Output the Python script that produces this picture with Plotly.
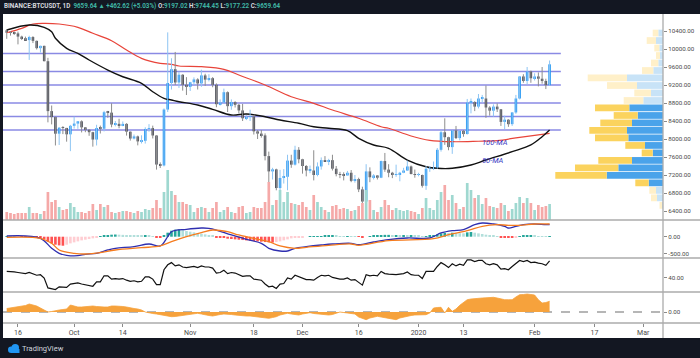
import plotly.graph_objects as go
import pandas as pd

# ---------------- data ----------------
dates = pd.date_range("2019-09-13", "2020-02-05", freq="D")

opens = [10416,10361,10358,10347,10276,10241,10198,10266,10181,10019,10070,9729,8620,8487,8118,8251,8246,8104,
         8293,8343,8393,8259,8205,8151,7988,8245,8228,8595,8586,8322,8337,8295,8336,8163,8010,8058,7947,7960,8223,8243,8078,7432,7412,8655,9245,9552,9256,9428,9205,
         9157,9261,9324,9235,9413,9320,9352,9205,8773,8810,9040,8730,8820,8760,8635,8460,8490,8500,8170,8120,8080,7620,7280,7325,6910,7135,7160,7520,7430,7760,
         7550,7400,7300,7300,7200,7390,7530,7510,7530,7340,7220,7200,7190,7250,7070,7110,6880,6610,7280,7150,7190,7140,7510,7320,7250,7200,7200,7250,7300,7390,7220,
         7200,7200,6960,7340,7350,7350,7760,8150,8040,7820,8190,8020,8180,8110,8810,8820,8720,8900,8900,8700,8630,8720,8660,8380,8430,8330,8590,8900,9390,9290,9500,
         9350,9390,9340,9290,9197.02]
highs = [10441,10394,10387,10386,10296,10275,10295,10285,10188,10074,10074,9804,8744,8498,8265,8285,8246,8314,
         8497,8393,8414,8260,8215,8161,8316,8298,8626,8625,8794,8400,8449,8390,8352,8165,8100,8076,8082,8260,8330,8297,8078,7480,8680,10370,9794,9935,9494,9440,9375,
         9270,9370,9350,9540,9450,9440,9375,9235,8880,9120,9058,8880,8840,8780,8780,8530,8650,8530,8200,8200,8125,7720,7360,7340,7315,7330,7650,7650,7850,7820,
         7560,7420,7410,7750,7480,7590,7620,7560,7650,7400,7270,7260,7290,7310,7200,7140,6940,7440,7370,7220,7190,7520,7690,7440,7270,7430,7270,7360,7520,7410,7320,
         7250,7210,7400,7400,7500,7800,8200,8460,8050,8200,8290,8190,8200,8890,8900,8840,9000,8980,9190,8730,8770,8790,8660,8520,8440,8600,8980,9400,9440,9600,
         9520,9460,9480,9600,9340,9744.45]
lows = [10226,10298,10313,10103,10199,10191,9758,10132,9989,9922,9727,8370,8325,7856,7867,8109,7941,7730,
        8232,8227,8146,8151,8071,7830,7856,8122,8169,8471,8260,8281,8238,8284,8076,7965,7990,7859,7901,7898,8162,8012,7320,7355,7390,8600,9100,9200,9135,9075,8977,
        9067,9200,9100,9160,9180,9280,9150,8705,8745,8790,8600,8650,8700,8570,8400,8420,8400,8100,8000,8030,7525,6900,7100,6860,6520,7010,6860,7360,7410,7460,
        7230,7170,7240,7080,7170,7320,7500,7420,7300,7170,7130,7080,7200,7040,7030,6820,6560,6500,7040,7100,7100,7130,7270,7150,7130,7160,7060,7240,7290,7220,7140,
        7170,6920,6870,7270,7310,7340,7720,7870,7750,7670,8000,7970,8050,8100,8570,8620,8680,8810,8470,8520,8500,8600,8290,8220,8270,8290,8560,8880,9250,9210,
        9250,9300,9170,9230,9110,9177.22]
closes = [10361,10358,10347,10276,10241,10198,10266,10181,10019,10070,9729,8620,8487,8118,8251,8246,8104,8293,
          8343,8393,8259,8205,8151,7988,8245,8228,8595,8586,8322,8337,8295,8336,8163,8010,8058,7947,7960,8223,8243,8078,7432,7412,8655,9245,9552,9256,9428,9205,9157,
          9261,9324,9235,9413,9320,9352,9205,8773,8810,9040,8730,8820,8760,8635,8460,8490,8500,8170,8120,8080,7620,7280,7325,6910,7135,7160,7520,7430,7760,7550,
          7400,7300,7300,7200,7390,7530,7510,7530,7340,7220,7200,7190,7250,7070,7110,6880,6610,7280,7150,7190,7140,7510,7320,7250,7200,7200,7250,7300,7390,7220,7200,
          7200,6960,7340,7350,7350,7760,8150,8040,7820,8190,8020,8180,8110,8810,8820,8720,8900,8900,8700,8630,8720,8660,8380,8430,8330,8590,8900,9390,9290,9500,9350,
          9390,9340,9290,9197,9659.64]
volumes = ([8,7,6,7,7,7,13,7,7,6,9,28,18,20,13,10,11,17] +
           [13,8,8,7,9,16,10,16,13,15,8,7,8,9,9,8,7,9,8,11,10,12,20,12,28,50,29,25,18,18,16] +
           [15,8,12,13,12,8,12,18,8,10,13,8,7,13,14,7,8,13,12,12,18,38,15,20,30,18,28,17,16,15] +
           [18,13,10,25,18,13,10,8,14,15,11,12,11,9,10,14,17,30,20,10,8,13,20,15,10,12,10,9,10,9,8] +
           [6,12,22,12,10,20,28,35,20,25,17,11,13,37,30,22,25,16,22,14,13,12,17,15,9,11,17,23,17,22,17] +
           [10,15,13,14,16])

ma50_dates = ["2019-09-13","2019-09-19","2019-09-23","2019-09-25","2019-09-26","2019-09-29","2019-10-02","2019-10-05",
              "2019-10-10","2019-10-14","2019-10-19","2019-10-22","2019-10-25","2019-10-27","2019-10-29","2019-11-03",
              "2019-11-07","2019-11-12","2019-11-16","2019-11-21","2019-11-25","2019-11-30","2019-12-04","2019-12-08",
              "2019-12-13","2019-12-16","2019-12-20","2019-12-24","2019-12-29","2020-01-03","2020-01-06","2020-01-10",
              "2020-01-15","2020-01-19","2020-01-26","2020-01-31","2020-02-03","2020-02-05"]
ma50_vals = [10422,10533,10482,10384,10238,10016,9904,9756,9533,9384,9238,9051,8904,8867,8829,8756,8660,8533,8556,8496,
             8422,8349,8273,8238,8184,8016,7867,7793,7533,7384,7349,7349,7422,7533,7718,7867,8051,8200]
ma100_dates = ["2019-09-13","2019-09-17","2019-09-20","2019-09-23","2019-09-27","2019-10-02","2019-10-06","2019-10-11",
               "2019-10-15","2019-10-19","2019-10-24","2019-10-27","2019-10-29","2019-11-04","2019-11-10","2019-11-14",
               "2019-11-21","2019-11-28","2019-12-04","2019-12-09","2019-12-16","2019-12-22","2019-12-24","2019-12-30",
               "2020-01-04","2020-01-10","2020-01-17","2020-01-22","2020-01-28","2020-02-05"]
ma100_vals = [10362,10460,10556,10571,10556,10482,10349,10184,9978,9793,9682,9660,9622,9607,9549,9422,9200,8940,8793,
              8644,8460,8273,8238,8067,7970,7940,7950,7965,8038,8127]

levels = [9900, 9500, 9200, 8800, 8500, 8200]

profile_prices = [10355,10188,10022,9855,9689,9522,9356,9189,9023,8856,8690,8523,8357,8190,8024,7857,7691,7524,
                  7358,7191,7025,6858,6692,6525]
profile_up = [4.7,7,3.7,3,4.7,9.7,36,26,12,19.7,33.7,25.3,31,36,34.7,18,10.3,31,44.7,56.3,14.3,7,6,0.8]
profile_down = [5.6,9.3,5,4,7.3,11.3,39.3,30,16.7,19.6,34.3,24,31.7,37.7,33.3,19.7,11,33.7,43.3,51.4,13.4,6.7,6,2.7]
value_area = [False]*10 + [True]*11 + [False]*3

macd_dates_idx = [0,9,12,14,16,19,21,24,27,29,34,38,41,43,44,48,52,54,56,60,64,68,70,73,75,77,80,84,87,92,
                  94,98,102,107,113,116,119,122,125,127,130,133,134,136,138,141,144,145]
macd_vals = [21,-48,-347,-497,-557,-569,-527,-497,-398,-347,-299,-219,-278,0,150,222,260,251,200,51,
             -78,-198,-347,-428,-428,-347,-299,-249,-219,-198,-240,-159,-90,-39,-39,111,180,210,360,410,
             380,311,260,311,360,380,360,365]
signal_dates_idx = [0,9,12,14,18,21,25,29,36,41,44,48,52,55,59,62,66,70,73,77,80,86,92,94,102,114,118,123,127,131,134,137,141,145]
signal_vals = [-18,-48,-198,-398,-497,-518,-479,-398,-329,-278,-150,0,120,200,150,51,-48,-150,-278,-347,-317,-257,-219,
               -257,-120,-60,60,180,311,360,341,341,380,380]
hist_vals = ([10,8,5,0,-5,-8,-5,-10,-15] + [-30,-70,-150,-200,-240,-260,-270] +
             [-240,-200,-170,-140,-110,-90,-70,-50,-30] +
             [10,30,50,60,65,60,55,50,45,40,35,30,30,25] + [10,-10,-20] + [30,120,180,210,220] +
             [200,170,150,130,110,90,70,50,30] +
             [-10,-30,-40,-60,-70,-80,-90,-100,-110,-120,-130,-140,-150,-160,-170,-175] +
             [-160,-140,-110,-80,-50,-30] + [-20,-10,0,5] + [10,15,20,25,30,30,25,20,15,15,10] + [5,-5,-20] +
             [0,20,30,40,50,55,55,50,50,45,45,40,40,35,30] + [10,20,30,50,70] +
             [100,120,110,120,110,105,100,130,140] + [120,100,80,60,40,30,15] + [-10,-25,-35,-40,-20] +
             [10,25,30,30,25,20,10,5,15])

rsi_vals = [52,52,51,50,49,48,50,48,45,46,40,22,21,19,24,24,23,29,
            30,31,29,28,27,25,33,33,44,44,38,39,38,39,36,34,35,33,34,42,42,38,28,28,55,64,68,62,64,60,59,
            60,61,59,62,60,60,58,49,50,54,48,50,49,46,43,44,44,38,37,36,29,24,25,21,29,30,40,38,45,42,
            39,37,37,36,41,45,44,45,41,39,38,38,40,36,37,32,27,46,44,45,44,52,48,47,46,46,47,48,51,46,45,
            45,39,52,52,52,61,68,64,59,66,62,65,63,73,73,70,72,72,66,64,66,64,56,57,55,61,66,72,70,72,68,
            69,67,66,63,71]

osc_vals = ([3.5,4,4.5,5,5.5,6.5,8,7,6,4,2] + [0,0.5,1.5,2,2.5,3] +
            [7,6,5,5,5.5,6,6,5.5,5,5,5,6,6,6,5.5,5,4,3.5,3,2] + [0,-1,-1.5,-2,-2.7] +
            [-3,-4,-4.7,-4.5,-4,-3.5,-3,-2.5,-2,-1.3,-2,-3,-3.5,-4] +
            [-3,-2.5,-2,-2,-2.5,-3,-3.5,-4,-4,-4,-4.5,-5,-5.5,-6,-6.3,-5.5,-4.7] +
            [-3,-2,-1.3,-2,-2.5,-3,-2,-1,-0.7,-1.5,-2,-2.5,-3,-3,-2.5,-1.5] +
            [0,-0.5,-1,-1.3,-2,-5,-6.5,-7.7,-6,-5,-4.3,-5,-5.5,-6,-7,-7.7,-6,-5,-4.3,-3.5,-3,-2.7] +
            [-2.7,-2.7,-1,4,4.5,4.7,-1,4.7,0.7,3,6.7] +
            [10,12.3,13,13.5,14,14,14.2,14.5,14.7,14,13,12.3,12.3,12.3,15,17.3,17.5,18,17.5,17,12.3,9,9.5,10.7])

x_tickvals = ["2019-09-16","2019-10-01","2019-10-14","2019-11-01","2019-11-18","2019-12-01","2019-12-16",
              "2020-01-01","2020-01-13","2020-02-01","2020-02-17","2020-03-01"]
x_ticktext = ["16","Oct","14","Nov","18","Dec","16","2020","13","Feb","17","Mar"]
price_ticks = [6400,6800,7200,7600,8000,8400,8800,9200,9600,10000,10400]

# ---------------- geometry helpers ----------------
W, H = 700, 358
ML, MR, MT, MB = 3, 37, 14, 35
PW, PH = W - ML - MR, H - MT - MB

def py(p):
    return (H - MB - p) / PH

def pxp(p):
    return (p - ML) / PW

DAY = 86400000
UP, DOWN = "#2196f3", "#4a4d57"

fig = go.Figure()

# volume
vol_colors = ["#9fd8d0" if c >= o else "#f5a9a8" for o, c in zip(opens, closes)]
fig.add_trace(go.Bar(x=dates, y=volumes, marker_color=vol_colors, marker_line_width=0,
                     width=0.72 * DAY, xaxis="x", yaxis="y5", hoverinfo="skip"))

# volume profile
up_cols = ["#4aa3ea" if va else "#c8e3f7" for va in value_area]
dn_cols = ["#fbd35e" if va else "#fff0c9" for va in value_area]
fig.add_trace(go.Bar(y=profile_prices, x=profile_up, orientation="h", width=150,
                     marker_color=up_cols, marker_line_width=0, xaxis="x2", yaxis="y", hoverinfo="skip"))
fig.add_trace(go.Bar(y=profile_prices, x=profile_down, base=profile_up, orientation="h", width=150,
                     marker_color=dn_cols, marker_line_width=0, xaxis="x2", yaxis="y", hoverinfo="skip"))

# moving averages
fig.add_trace(go.Scatter(x=ma100_dates, y=ma100_vals, mode="lines", line=dict(color="#e8443a", width=1.2, shape="spline"),
                         xaxis="x", yaxis="y", hoverinfo="skip"))
fig.add_trace(go.Scatter(x=ma50_dates, y=ma50_vals, mode="lines", line=dict(color="#111111", width=1.4, shape="spline"),
                         xaxis="x", yaxis="y", hoverinfo="skip"))

# wicks
for is_up, col in [(True, "#8ec5f3"), (False, "#8d8d8d")]:
    wx, wy = [], []
    for d, o, h, l, c in zip(dates, opens, highs, lows, closes):
        if (c >= o) == is_up:
            wx += [d, d, None]
            wy += [l, h, None]
    fig.add_trace(go.Scatter(x=wx, y=wy, mode="lines", line=dict(color=col, width=1),
                             xaxis="x", yaxis="y", hoverinfo="skip"))

# bodies
body_base = [min(o, c) for o, c in zip(opens, closes)]
body_h = [max(abs(c - o), 18) for o, c in zip(opens, closes)]
body_col = [UP if c >= o else DOWN for o, c in zip(opens, closes)]
fig.add_trace(go.Bar(x=dates, y=body_h, base=body_base, width=0.68 * DAY, marker_color=body_col,
                     marker_line_width=0, xaxis="x", yaxis="y", hoverinfo="skip"))

# MACD
hist_cols = []
prev = 0
for v in hist_vals:
    if v >= 0:
        hist_cols.append("#26a69a" if v >= prev else "#b2dfdb")
    else:
        hist_cols.append("#ff5252" if v < prev else "#ffcdd2")
    prev = v
fig.add_trace(go.Bar(x=dates, y=hist_vals, marker_color=hist_cols, marker_line_width=0, width=0.7 * DAY,
                     xaxis="x", yaxis="y2", hoverinfo="skip"))
fig.add_trace(go.Scatter(x=dates[macd_dates_idx], y=macd_vals, mode="lines",
                         line=dict(color="#2f2fb0", width=1.3, shape="spline"), xaxis="x", yaxis="y2", hoverinfo="skip"))
fig.add_trace(go.Scatter(x=dates[signal_dates_idx], y=signal_vals, mode="lines",
                         line=dict(color="#f57c1f", width=1.3, shape="spline"), xaxis="x", yaxis="y2", hoverinfo="skip"))

# RSI
fig.add_trace(go.Scatter(x=dates, y=rsi_vals, mode="lines", line=dict(color="#111111", width=1.2),
                         xaxis="x", yaxis="y3", hoverinfo="skip"))

# oscillator area
fig.add_trace(go.Scatter(x=dates, y=osc_vals, mode="lines", fill="tozeroy", fillcolor="#f6a23c",
                         line=dict(color="#f6a23c", width=0.8), xaxis="x", yaxis="y4", hoverinfo="skip"))

# ---------------- shapes ----------------
shapes = [dict(type="rect", xref="paper", yref="paper", x0=0, x1=pxp(700), y0=py(338), y1=1,
               fillcolor="white", line_width=0, layer="below")]
for lv in levels:
    shapes.append(dict(type="line", xref="x", yref="y", x0="2019-09-12", x1="2020-02-08", y0=lv, y1=lv,
                       line=dict(color="#8a8ae4", width=1.5), layer="below"))
shapes.append(dict(type="line", xref="paper", yref="y4", x0=0, x1=1, y0=0, y1=0,
                   line=dict(color="#9e9e9e", width=1.3, dash="dash"), layer="below"))
for sep in [220, 258, 292, 323]:
    shapes.append(dict(type="line", xref="paper", yref="paper", x0=0, x1=pxp(700), y0=py(sep), y1=py(sep),
                       line=dict(color="#ababab", width=1.3), layer="above"))
shapes.append(dict(type="line", xref="paper", yref="paper", x0=1, x1=1, y0=py(338), y1=1,
                   line=dict(color="#ababab", width=1.3), layer="above"))
# TradingView logo (small cloud)
logo = "#2196f3"
shapes += [
    dict(type="circle", xref="paper", yref="paper", x0=pxp(8), x1=pxp(14.5), y0=py(353), y1=py(346.5),
         fillcolor=logo, line_width=0, layer="above"),
    dict(type="circle", xref="paper", yref="paper", x0=pxp(11.5), x1=pxp(19), y0=py(351.5), y1=py(344),
         fillcolor=logo, line_width=0, layer="above"),
    dict(type="rect", xref="paper", yref="paper", x0=pxp(11), x1=pxp(19.5), y0=py(353), y1=py(349),
         fillcolor=logo, line_width=0, layer="above"),
]

# ---------------- annotations ----------------
teal = "#3fb4a2"
lab = "#d6d8de"
header = (f"<b><span style='color:{lab}'>BINANCE:BTCUSDT, 1D</span>  "
          f"<span style='color:{teal}'>9659.64 ▲ +462.62 (+5.03%)</span> "
          f"<span style='color:{lab}'>O:</span><span style='color:{teal}'>9197.02</span> "
          f"<span style='color:{lab}'>H:</span><span style='color:{teal}'>9744.45</span> "
          f"<span style='color:{lab}'>L:</span><span style='color:{teal}'>9177.22</span> "
          f"<span style='color:{lab}'>C:</span><span style='color:{teal}'>9659.64</span></b>")
annotations = [
    dict(text=header, xref="paper", yref="paper", x=pxp(2), y=py(6), xanchor="left", yanchor="middle",
         showarrow=False, font=dict(family="Roboto", size=6.3)),
    dict(text="<i>100-MA</i>", xref="x", yref="y", x="2020-01-21 08:00", y=7925, showarrow=False,
         font=dict(family="Roboto", size=7.5, color="#3a3ac4")),
    dict(text="<i>50-MA</i>", xref="x", yref="y", x="2020-01-21 00:00", y=7530, showarrow=False,
         font=dict(family="Roboto", size=7.5, color="#3a3ac4")),
    dict(text="TradingView", xref="paper", yref="paper", x=pxp(20), y=py(348.5), xanchor="left",
         yanchor="middle", showarrow=False, font=dict(family="Roboto", size=7.5, color="#d1d4dc")),
]

axfont = dict(family="Roboto", size=6.2, color="#4a4a4a")
common_y = dict(side="right", anchor="x", showgrid=False, zeroline=False, ticks="outside", ticklen=3,
                tickcolor="#8a8a8a", tickfont=axfont, showline=False, fixedrange=True)

fig.update_layout(
    width=W, height=H, margin=dict(l=ML, r=MR, t=MT, b=MB),
    paper_bgcolor="#131722", plot_bgcolor="rgba(0,0,0,0)",
    showlegend=False, barmode="overlay", shapes=shapes, annotations=annotations,
    xaxis=dict(domain=[0, 1], anchor="y4", type="date", range=["2019-09-12 00:00", "2020-03-06 07:00"],
               tickvals=x_tickvals, ticktext=x_ticktext, ticks="outside", ticklen=3, tickcolor="#8a8a8a",
               tickfont=dict(family="Roboto", size=7, color="#4a4a4a"), showgrid=False, zeroline=False,
               showline=False),
    xaxis2=dict(overlaying="x", anchor="y", range=[PW, 0], visible=False, showgrid=False, zeroline=False),
    yaxis=dict(domain=[py(220), 1], range=[6200, 10778], tickvals=price_ticks,
               ticktext=[f"{v:.2f}" for v in price_ticks], **common_y),
    yaxis2=dict(domain=[py(258), py(220)], range=[-638, 500], tickvals=[0, -500],
                ticktext=["0.00", "-500.00"], **common_y),
    yaxis3=dict(domain=[py(292), py(258)], range=[14.5, 76.4], tickvals=[40], ticktext=["40.00"], **common_y),
    yaxis4=dict(domain=[0, py(292)], range=[-11, 20], tickvals=[0], ticktext=["0.00"], **common_y),
    yaxis5=dict(overlaying="y", range=[0, 206], visible=False, showgrid=False, zeroline=False),
)

fig.write_html("out.html", config={"displayModeBar": False},
               post_script="document.body.style.margin='0px';document.body.style.background='#131722';")
